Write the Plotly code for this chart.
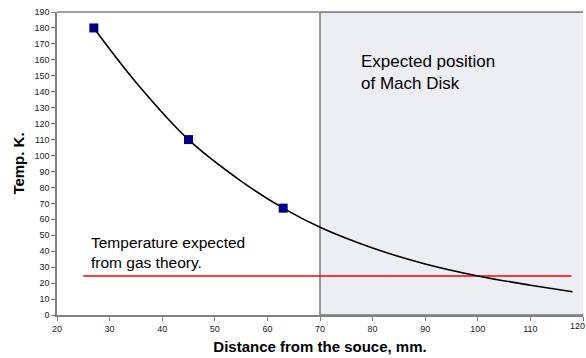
import plotly.graph_objects as go

# measured points
dist_pts = [27, 45, 63]
temp_pts = [180, 110, 67]

# trend curve
curve_x = [27, 35, 45, 55, 63, 70, 80, 90, 100, 110, 118]
curve_y = [180, 146, 110, 84, 67, 55, 42, 32, 24.5, 18.7, 14.6]

# gas-theory expectation line
theory_x = [25, 117.8]
theory_y = [24.5, 24.5]

mach_disk_start = 70

x_ticks = list(range(20, 121, 10))
y_ticks = list(range(0, 191, 10))

FONT = "Liberation Sans, Arial, sans-serif"

fig = go.Figure()

fig.add_shape(type="rect", xref="x", yref="y",
              x0=mach_disk_start, x1=125, y0=0, y1=190,
              fillcolor="#EDEDF4", line=dict(color="#7A7A7A", width=1.5),
              layer="below")

fig.add_trace(go.Scatter(x=theory_x, y=theory_y, mode="lines",
                         line=dict(color="#FF0000", width=1.5),
                         hoverinfo="skip", showlegend=False))
fig.add_trace(go.Scatter(x=curve_x, y=curve_y, mode="lines",
                         line=dict(color="#000000", width=1.6, shape="spline"),
                         showlegend=False))
fig.add_trace(go.Scatter(x=dist_pts, y=temp_pts, mode="markers",
                         marker=dict(symbol="square", size=9, color="#000080",
                                     line=dict(width=0)),
                         showlegend=False))

fig.add_annotation(x=77.4, y=152, xref="x", yref="y", xanchor="left", yanchor="middle",
                   text="Expected position<br>of Mach Disk", showarrow=False, align="left",
                   font=dict(family=FONT, size=17, color="#000000"))
fig.add_annotation(x=26.0, y=39, xref="x", yref="y", xanchor="left", yanchor="middle",
                   text="Temperature expected<br>from gas theory.", showarrow=False, align="left",
                   font=dict(family=FONT, size=15.5, color="#000000"))
# last tick label, kept inside the page edge
fig.add_annotation(x=x_ticks[-1], y=0, xref="x", yref="paper", yanchor="top",
                   xanchor="right", xshift=3, yshift=-5,
                   text=str(x_ticks[-1]), showarrow=False, borderpad=0,
                   font=dict(family=FONT, size=9, color="#222222"))

fig.update_layout(
    width=586, height=358,
    margin=dict(l=57, r=3, t=12, b=43),
    paper_bgcolor="white", plot_bgcolor="white",
    font=dict(family=FONT, color="#000000"),
    showlegend=False,
)
fig.update_xaxes(range=[20, 120], tickvals=x_ticks, ticks="outside", ticklen=4,
                 tickcolor="#808080", showline=True, linecolor="#808080", linewidth=1.5,
                 mirror=False, showgrid=False, zeroline=False,
                 tickfont=dict(family=FONT, size=9, color="#222222"),
                 title=dict(text="<b>Distance from the souce, mm.</b>", standoff=9,
                            font=dict(family=FONT, size=15, color="#000000")))
fig.update_yaxes(range=[0, 190], tickvals=y_ticks, ticks="outside", ticklen=4,
                 tickcolor="#808080", showline=True, linecolor="#808080", linewidth=1.5,
                 showgrid=False, zeroline=False,
                 tickfont=dict(family=FONT, size=9, color="#222222"),
                 title=dict(text="<b>Temp. K.</b>", standoff=6,
                            font=dict(family=FONT, size=15, color="#000000")))
# top border of plot area
fig.add_shape(type="line", xref="paper", yref="paper", x0=0, x1=1, y0=1, y1=1,
              line=dict(color="#808080", width=1.5), layer="above")

fig.write_html("out.html")
